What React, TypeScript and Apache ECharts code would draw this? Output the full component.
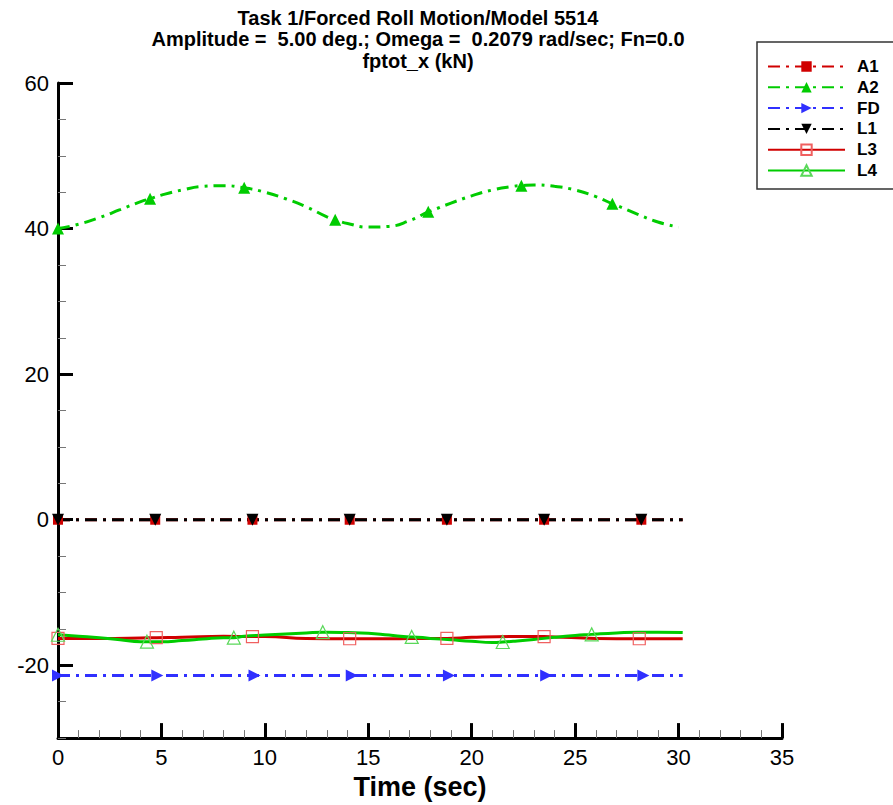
import React, { useEffect, useRef } from "react";
import * as echarts from "echarts";

const titleLines = [
  "Task 1/Forced Roll Motion/Model 5514",
  "Amplitude =  5.00 deg.; Omega =  0.2079 rad/sec; Fn=0.0",
  "fptot_x (kN)",
];
const xAxisTitle = "Time (sec)";
const yMajorTicks = [-20, 0, 20, 40, 60];

// A1: red dash-dot, filled squares
const a1Time = [0, 30.2];
const a1Value = [0, 0];
const a1MarkTime = [0, 4.7, 9.4, 14.1, 18.8, 23.5, 28.2];
const a1MarkValue = [0, 0, 0, 0, 0, 0, 0];

// A2: green dash-dot, filled triangles
const a2Time = [0, 1, 2, 3, 4, 5, 6, 7, 8, 9, 10, 11, 12, 13, 14, 15, 16, 17, 18, 19, 20, 21, 22, 23, 24, 25, 26, 27, 28, 29, 30];
const a2Value = [40.0, 40.6, 41.5, 42.6, 43.7, 44.6, 45.3, 45.8, 45.9, 45.6, 45.0, 44.1, 43.0, 41.6, 40.7, 40.2, 40.3, 41.1, 42.4, 43.5, 44.5, 45.3, 45.8, 46.0, 45.8, 45.3, 44.4, 43.2, 42.0, 40.9, 40.2];
const a2MarkTime = [0, 4.45, 9.0, 13.4, 17.9, 22.4, 26.8];
const a2MarkValue = [40.0, 44.1, 45.6, 41.2, 42.3, 45.9, 43.4];

// FD: blue dash-dot, right-pointing triangles
const fdTime = [0, 30.2];
const fdValue = [-21.4, -21.4];
const fdMarkTime = [0, 4.8, 9.5, 14.2, 18.9, 23.6, 28.3];
const fdMarkValue = [-21.4, -21.4, -21.4, -21.4, -21.4, -21.4, -21.4];

// L1: black dash-dot, down triangles
const l1Time = [0, 30.2];
const l1Value = [0, 0];
const l1MarkTime = [0, 4.7, 9.4, 14.1, 18.8, 23.5, 28.2];
const l1MarkValue = [0, 0, 0, 0, 0, 0, 0];

// L3: red solid, hollow squares
const l3Time = [0, 2, 4, 6, 8, 10, 12, 14, 16, 18, 20, 22, 24, 26, 28, 30.2];
const l3Value = [-16.3, -16.3, -16.25, -16.15, -16.0, -16.05, -16.3, -16.35, -16.35, -16.3, -16.15, -16.05, -16.1, -16.3, -16.35, -16.35];
const l3MarkTime = [0, 4.75, 9.4, 14.1, 18.8, 23.5, 28.1];
const l3MarkValue = [-16.3, -16.2, -16.05, -16.35, -16.3, -16.05, -16.35];

// L4: green solid, hollow triangles
const l4Time = [0, 1, 2, 3, 4, 5, 6, 7, 8, 9, 10, 11, 12, 13, 14, 15, 16, 17, 18, 19, 20, 21, 22, 23, 24, 25, 26, 27, 28, 29, 30.2];
const l4Value = [-15.8, -16.0, -16.2, -16.5, -16.75, -16.75, -16.6, -16.4, -16.2, -16.0, -15.85, -15.7, -15.55, -15.45, -15.5, -15.6, -15.85, -16.1, -16.3, -16.5, -16.7, -16.85, -16.7, -16.45, -16.15, -15.9, -15.7, -15.55, -15.45, -15.45, -15.5];
const l4MarkTime = [0, 4.3, 8.5, 12.8, 17.1, 21.5, 25.8];
const l4MarkValue = [-15.8, -16.75, -16.2, -15.45, -16.1, -16.8, -15.75];

const FONT = "'Liberation Sans', Arial, Helvetica, sans-serif";
const RED = "#d00000";
const GREEN = "#00cc00";
const BLUE = "#3030ff";
const BLACK = "#000000";
const DASHDOT = [12, 6, 3, 6];

function buildData(lt: number[], lv: number[], mt: number[], mv: number[], symbol: string) {
  const pts: any[] = [];
  lt.forEach((t, i) => {
    if (!mt.includes(t)) pts.push({ value: [t, lv[i]], symbol: "none" });
  });
  mt.forEach((t, i) => pts.push({ value: [t, mv[i]], symbol }));
  pts.sort((a, b) => a.value[0] - b.value[0]);
  return pts;
}

function makeSeries(
  name: string,
  data: any[],
  symbol: string,
  lineColor: string,
  markColor: string,
  hollow: boolean,
  dash: any,
  rotate: number,
  size: number,
  smooth: boolean
) {
  return {
    name,
    type: "line",
    data,
    symbol,
    symbolSize: size,
    symbolRotate: rotate,
    showSymbol: true,
    smooth,
    clip: false,
    lineStyle: { color: lineColor, width: 3, type: dash },
    itemStyle: hollow
      ? { color: "rgba(255,255,255,0)", borderColor: markColor, borderWidth: 1.2 }
      : { color: markColor, borderWidth: 0 },
    emphasis: { disabled: true },
  };
}

export default function App() {
  const ref = useRef<HTMLDivElement>(null);
  useEffect(() => {
    if (!ref.current) return;
    const chart = echarts.init(ref.current, undefined, { renderer: "svg" });
    const option: any = {
      animation: false,
      backgroundColor: "#ffffff",
      title: {
        text: titleLines.join("\n"),
        left: 413,
        top: 2,
        textAlign: "center",
        textStyle: {
          fontFamily: FONT,
          fontSize: 20,
          fontWeight: "bold",
          color: "#000",
          lineHeight: 21.5,
        },
      },
      graphic: [
        {
          type: "rect",
          shape: { x: 757, y: 42, width: 145, height: 147 },
          style: { fill: "#fff", stroke: "#333", lineWidth: 1.5 },
          z: -1,
          silent: true,
        },
      ],
      legend: {
        orient: "vertical",
        left: 767,
        top: 58,
        itemWidth: 77,
        itemHeight: 13,
        itemGap: 3.8,
        padding: 0,
        selectedMode: false,
        textStyle: {
          fontFamily: FONT,
          fontSize: 17,
          fontWeight: "bold",
          color: "#000",
          padding: [0, 0, 0, 7],
        },
        data: ["A1", "A2", "FD", "L1", "L3", "L4"],
      },
      grid: { left: 58, right: 111, top: 83, bottom: 66, containLabel: false },
      xAxis: {
        type: "value",
        min: 0,
        max: 35,
        interval: 5,
        name: xAxisTitle,
        nameLocation: "middle",
        nameGap: 31,
        nameTextStyle: { fontFamily: FONT, fontSize: 27, fontWeight: "bold", color: "#000" },
        axisLine: { onZero: false, lineStyle: { color: "#000", width: 3 } },
        axisTick: { inside: true, length: 15, lineStyle: { color: "#000", width: 3 } },
        minorTick: { show: true, splitNumber: 5, length: 8, lineStyle: { color: "#777", width: 1 } },
        axisLabel: { fontFamily: FONT, fontSize: 22, color: "#000", margin: 8 },
        splitLine: { show: false },
        minorSplitLine: { show: false },
      },
      yAxis: [
        {
          type: "value",
          min: -30,
          max: 60,
          interval: 5,
          axisLine: { onZero: false, lineStyle: { color: "#000", width: 3 } },
          axisTick: { inside: true, length: 8, lineStyle: { color: "#777", width: 1 } },
          axisLabel: {
            customValues: yMajorTicks,
            formatter: (v: number) => (v % 20 === 0 && v > -30 ? String(v) : ""),
            fontFamily: FONT,
            fontSize: 22,
            color: "#000",
            margin: 9,
          },
          splitLine: { show: false },
        },
        {
          type: "value",
          min: -30,
          max: 60,
          interval: 5,
          position: "left",
          offset: 0,
          axisLine: { show: false, onZero: false },
          axisTick: {
            show: true,
            customValues: yMajorTicks,
            inside: true,
            length: 15,
            lineStyle: { color: "#000", width: 3 },
          },
          axisLabel: { show: false },
          splitLine: { show: false },
        },
      ],
      series: [
        makeSeries("A1", buildData(a1Time, a1Value, a1MarkTime, a1MarkValue, "rect"), "rect", RED, RED, false, DASHDOT, 0, 10, false),
        makeSeries("A2", buildData(a2Time, a2Value, a2MarkTime, a2MarkValue, "triangle"), "triangle", GREEN, GREEN, false, DASHDOT, 0, 12, true),
        makeSeries("FD", buildData(fdTime, fdValue, fdMarkTime, fdMarkValue, "triangle"), "triangle", BLUE, BLUE, false, DASHDOT, -90, 12, false),
        makeSeries("L1", buildData(l1Time, l1Value, l1MarkTime, l1MarkValue, "triangle"), "triangle", BLACK, BLACK, false, DASHDOT, 180, 12, false),
        makeSeries("L3", buildData(l3Time, l3Value, l3MarkTime, l3MarkValue, "rect"), "rect", RED, "#f06060", true, "solid", 0, 12, true),
        makeSeries("L4", buildData(l4Time, l4Value, l4MarkTime, l4MarkValue, "triangle"), "triangle", GREEN, "#5ad85a", true, "solid", 0, 13, true),
      ],
    };
    chart.setOption(option);
    return () => chart.dispose();
  }, []);
  return (
    <div
      ref={ref}
      style={{ position: "fixed", left: 0, top: 0, width: 893, height: 805, background: "#fff" }}
    />
  );
}
